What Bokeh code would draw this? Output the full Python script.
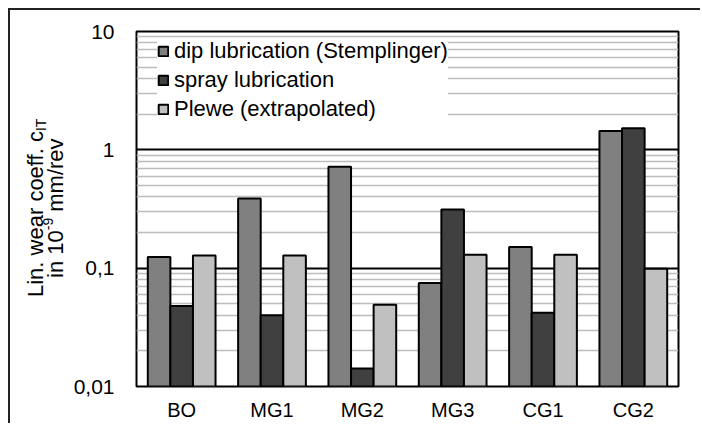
import numpy as np
from bokeh.plotting import figure
from bokeh.layouts import row
from bokeh.models import (ColumnDataSource, Legend, LegendItem, FactorRange, Div,
                          FixedTicker, CustomJSTickFormatter)
from bokeh.transform import dodge
from bokeh.embed import file_html
from bokeh.resources import INLINE

# ---- data ----
categories = ["BO", "MG1", "MG2", "MG3", "CG1", "CG2"]
dip = [0.124, 0.388, 0.72, 0.075, 0.151, 1.44]
spray = [0.048, 0.040, 0.0142, 0.313, 0.042, 1.52]
plewe = [0.128, 0.128, 0.049, 0.130, 0.130, 0.099]
series_names = ["dip lubrication (Stemplinger)", "spray lubrication", "Plewe (extrapolated)"]
y_ticks = [0.01, 0.1, 1, 10]
y_title_1 = ("Lin. wear coeff. c", "IT")
y_title_2 = ("in 10", "-9", " mm/rev")

FONT = "Liberation Sans"
colors = ["#808080", "#404040", "#c0c0c0"]
fields = ["dip", "spray", "plewe"]
offsets = [-0.25, 0.0, 0.25]

TITLE_W = 60
FIG_W, FIG_H = 630, 413

src = ColumnDataSource(dict(cat=categories, dip=dip, spray=spray, plewe=plewe))

p = figure(x_range=FactorRange(*categories), y_axis_type="log", y_range=(y_ticks[0], y_ticks[-1]),
           width=FIG_W, height=FIG_H, output_backend="svg", toolbar_location=None,
           min_border_left=63, min_border_right=22, min_border_top=21, min_border_bottom=36)
p.background_fill_color = "white"
p.border_fill_color = "white"
p.outline_line_color = "black"
p.outline_line_width = 2

minor = [d * m for d in y_ticks[:-1] for m in range(2, 10)]
p.yaxis.ticker = FixedTicker(ticks=y_ticks, minor_ticks=minor)
p.ygrid.ticker = p.yaxis.ticker
p.yaxis.formatter = CustomJSTickFormatter(code="return String(tick).replace('.', ',');")
p.ygrid.grid_line_color = "black"
p.ygrid.grid_line_width = 2
p.ygrid.minor_grid_line_color = "#bdbdbd"
p.ygrid.minor_grid_line_width = 1.5
p.xgrid.visible = False

for ax in (p.xaxis, p.yaxis):
    ax.axis_line_color = None
    ax.major_tick_line_color = None
    ax.minor_tick_line_color = None
    ax.major_label_text_font = FONT
    ax.major_label_text_color = "black"
p.yaxis.major_label_text_font_size = "21px"
p.yaxis.major_label_standoff = 16
p.xaxis.major_label_text_font_size = "20px"
p.xaxis.major_label_standoff = 6

renderers = []
for f, c, o in zip(fields, colors, offsets):
    r = p.vbar(x=dodge("cat", o, range=p.x_range), top=f, bottom=y_ticks[0], width=0.25,
               source=src, fill_color=c, line_color="black", line_width=2)
    renderers.append(r)

legend = Legend(items=[LegendItem(label=n, renderers=[r]) for n, r in zip(series_names, renderers)],
                location=(21, 264))
legend.label_text_font = FONT
legend.label_text_font_size = "22px"
legend.label_text_color = "black"
legend.glyph_width = 12
legend.glyph_height = 12
legend.label_standoff = 5
legend.label_height = 24
legend.spacing = 3
legend.padding = 6
legend.margin = 0
legend.background_fill_color = "white"
legend.background_fill_alpha = 1
legend.border_line_color = None
p.add_layout(legend)

# rotated two-line y-axis title with subscript / superscript (real HTML text)
small = "font-size:14px; line-height:0;"
title_html = (
    '<div style="writing-mode:vertical-rl; transform:rotate(180deg); height:396px; '
    'text-align:center; font-family:\'Liberation Sans\'; font-size:22px; line-height:20px; '
    'white-space:nowrap; color:#000; margin-left:16px;">'
    f'{y_title_1[0]}<sub style="{small}">{y_title_1[1]}</sub><br>'
    f'{y_title_2[0]}<sup style="{small}">{y_title_2[1]}</sup>{y_title_2[2]}'
    '</div>'
)
title_div = Div(text=title_html, width=TITLE_W, height=FIG_H, margin=0)

layout = row(title_div, p, spacing=0)
layout.styles = {"border-left": "2px solid #222", "border-top": "2px solid #222",
                 "margin-left": "8px", "margin-top": "8px"}

open("out.html", "w").write(file_html(layout, INLINE))
